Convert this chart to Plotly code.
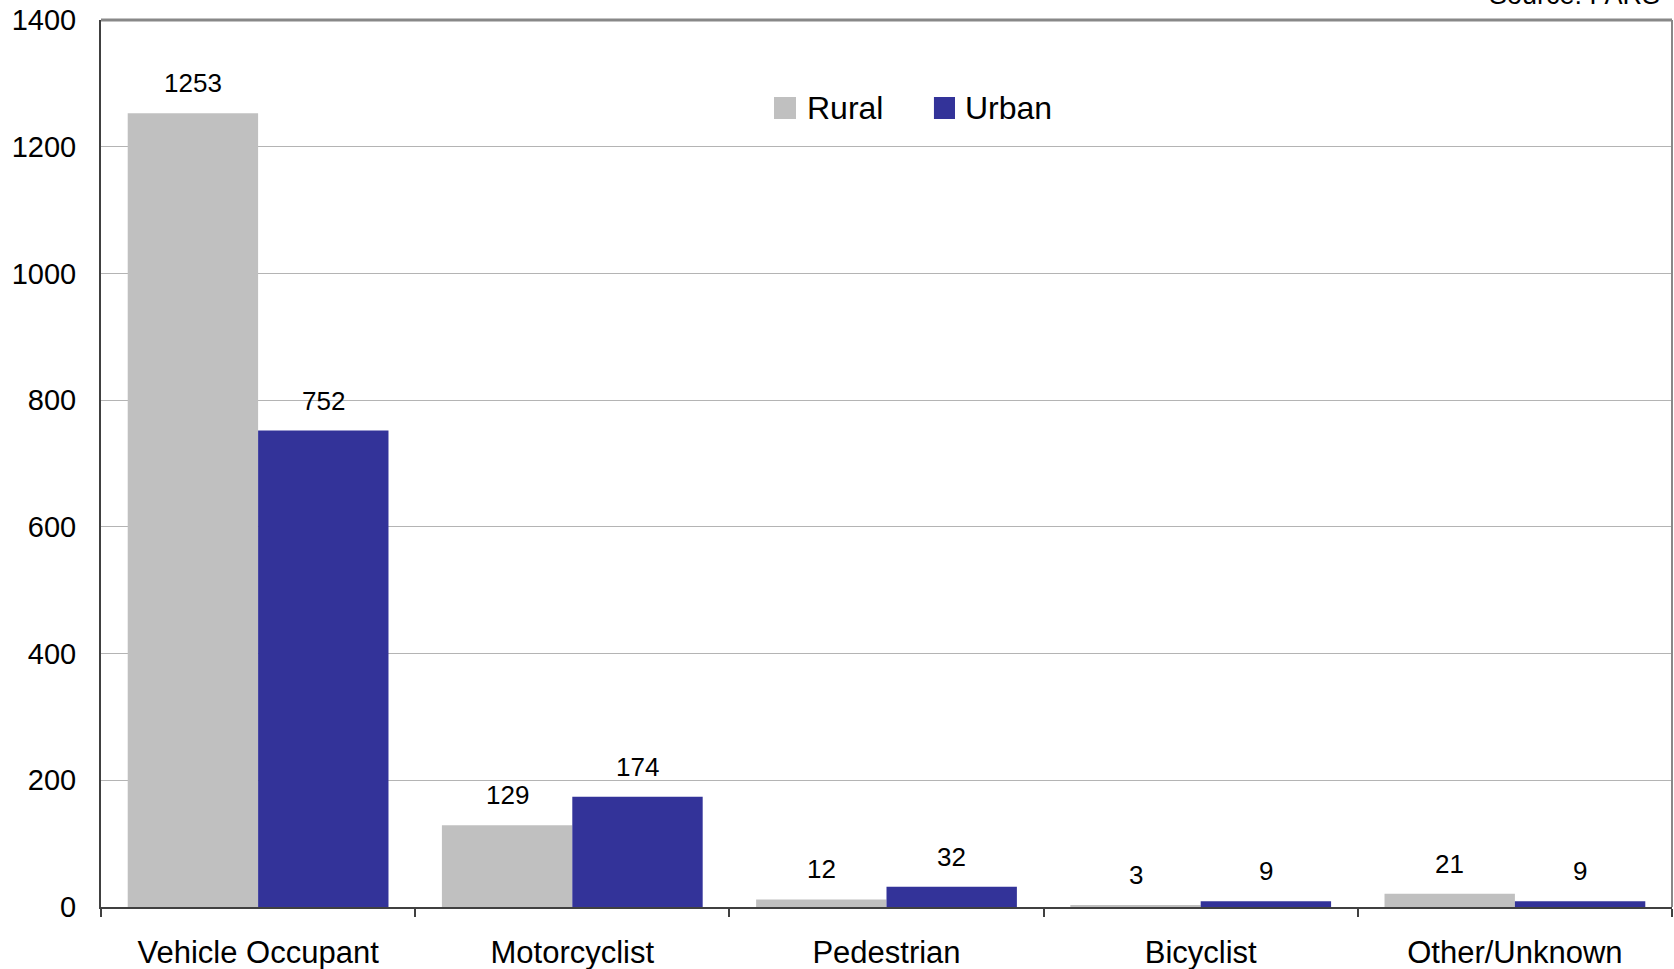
import plotly.graph_objects as go

categories = ["Vehicle Occupant", "Motorcyclist", "Pedestrian", "Bicyclist", "Other/Unknown"]
series_names = ["Rural", "Urban"]
rural = [1253, 129, 12, 3, 21]
urban = [752, 174, 32, 9, 9]
y_ticks = [0, 200, 400, 600, 800, 1000, 1200, 1400]
source_text = "Source: FARS"

FONT = "Liberation Sans, Arial, sans-serif"
COLORS = ["#C0C0C0", "#333399"]

fig = go.Figure()
for name, vals, col in zip(series_names, [rural, urban], COLORS):
    fig.add_trace(go.Bar(name=name, x=categories, y=vals, marker_color=col, marker_line_width=0,
                         showlegend=False))

annotations = []
for series, shift in ((rural, -65), (urban, 65)):
    for c, v in zip(categories, series):
        annotations.append(dict(x=c, y=v, xref="x", yref="y", text=str(v), showarrow=False,
                                xshift=shift, yshift=30, font=dict(family=FONT, size=26, color="#000000")))

annotations.append(dict(x=0.9936, y=1 + 8 / 887, xref="paper", yref="paper", xanchor="right", yanchor="bottom",
                        text=source_text, showarrow=False, font=dict(family=FONT, size=27, color="#000000")))

# manual legend (layout styling)
legend_items = [(0.4284, 0.4424, 0.4481), (0.5302, 0.5436, 0.5487)]
shapes = []
for (x0, x1, xt), name, col in zip(legend_items, series_names, COLORS):
    shapes.append(dict(type="rect", xref="paper", yref="paper", x0=x0, x1=x1, y0=0.8884, y1=0.9132,
                       fillcolor=col, line=dict(width=0)))
    annotations.append(dict(x=xt, y=0.9008, xref="paper", yref="paper", xanchor="left", yanchor="middle",
                            text=name, showarrow=False, font=dict(family=FONT, size=32, color="#000000")))

shapes += [
    dict(type="line", xref="paper", yref="paper", x0=0, x1=1, y0=1, y1=1, line=dict(color="#888888", width=3)),
    dict(type="line", xref="paper", yref="paper", x0=1, x1=1, y0=0, y1=1, line=dict(color="#888888", width=2)),
]

fig.update_layout(
    width=1674, height=969,
    margin=dict(l=101, r=2, t=20, b=62),
    paper_bgcolor="white", plot_bgcolor="white",
    barmode="group", bargap=0.17, bargroupgap=0,
    font=dict(family=FONT, color="#000000"),
    showlegend=False,
    annotations=annotations,
    shapes=shapes,
)
fig.update_xaxes(showline=True, linecolor="#404040", linewidth=2, ticks="outside", tickson="boundaries",
                 ticklen=8, tickcolor="#404040", tickwidth=1.5, showgrid=False, automargin=False,
                 tickfont=dict(family=FONT, size=31, color="#000000"), ticklabelstandoff=17)
fig.update_yaxes(range=[0, 1400], tickvals=y_ticks, showline=True, linecolor="#404040", linewidth=2,
                 showgrid=True, gridcolor="#B4B4B4", gridwidth=1, ticks="", zeroline=False, automargin=False,
                 tickfont=dict(family=FONT, size=29, color="#000000"), ticklabelstandoff=17)

fig.write_html("out.html", config={"displayModeBar": False},
               post_script="document.body.style.margin='0px';document.body.style.overflow='hidden';")
